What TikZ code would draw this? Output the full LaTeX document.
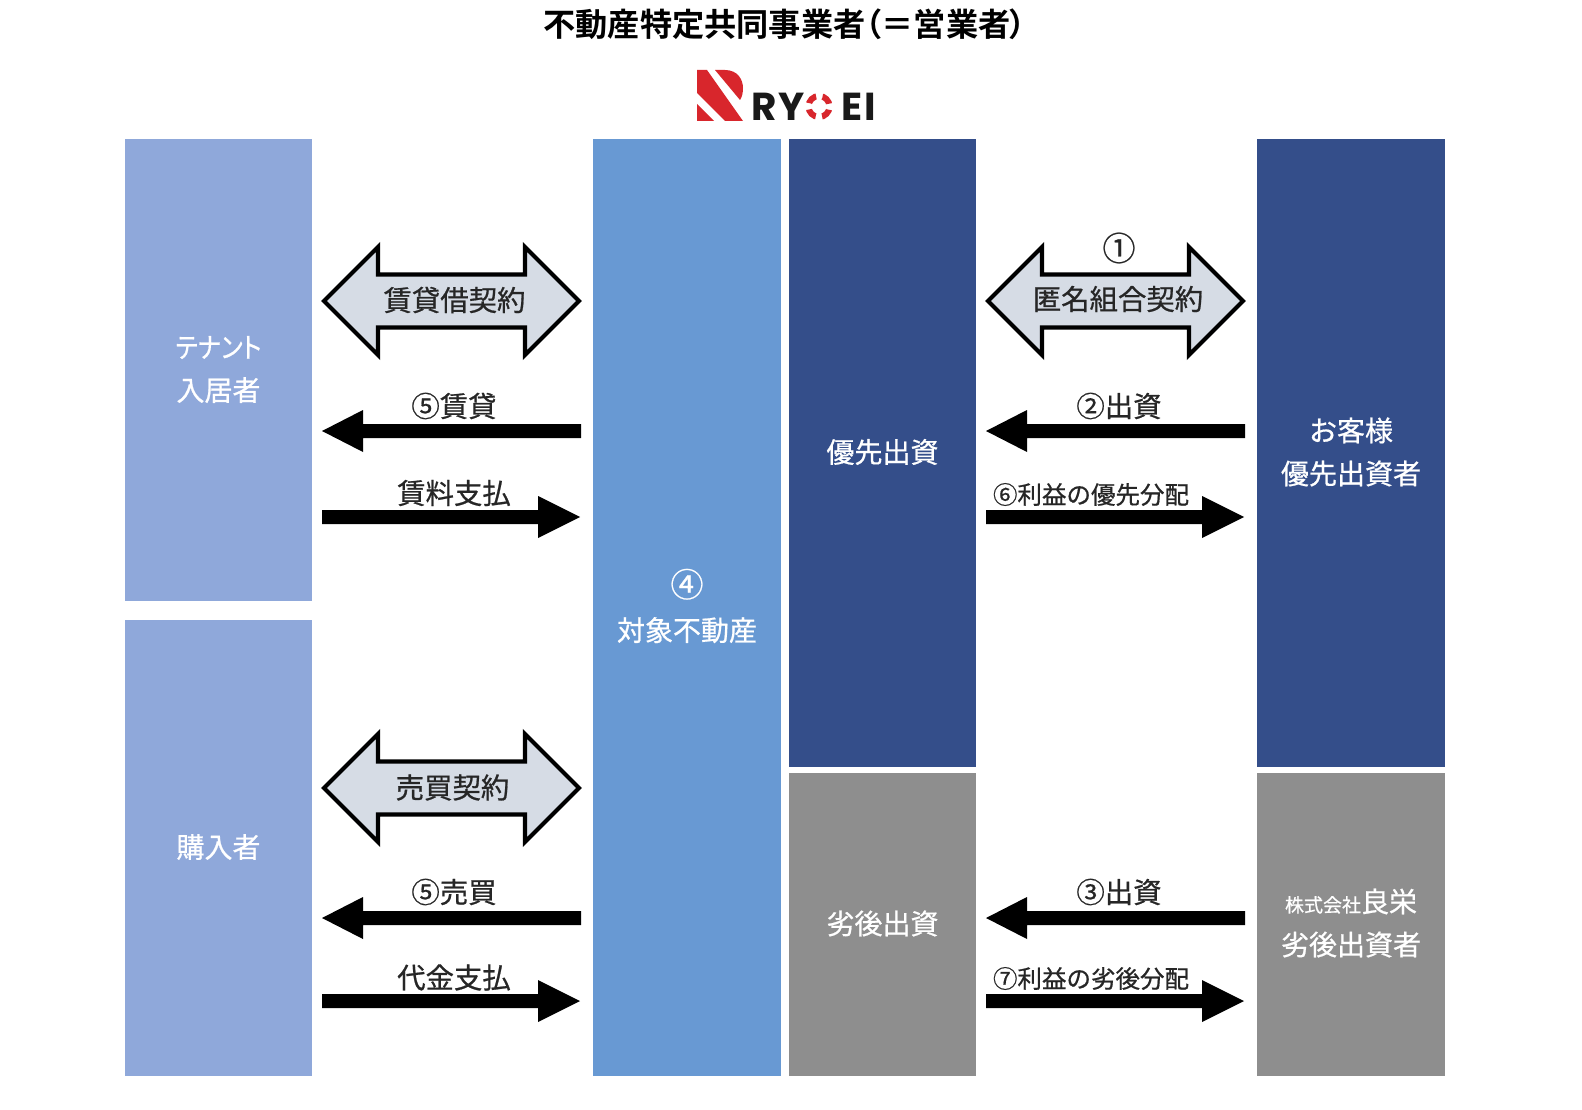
\documentclass[tikz,border=0pt]{standalone}
\usepackage{fontspec}
\usetikzlibrary{arrows.meta,calc}
\setmainfont[FakeBold=0.7]{Noto Sans CJK JP}
\newfontfamily\paltfont[FakeBold=0.7,RawFeature={+palt}]{Noto Sans CJK JP}
\newfontfamily\titlefont[RawFeature={+palt}]{Noto Sans CJK JP Bold}
\newfontfamily\logofont[LetterSpace=5]{Poppins Bold}
\definecolor{tenantblue}{HTML}{8FA8DA}
\definecolor{midblue}{HTML}{6899D3}
\definecolor{navy}{HTML}{344E8A}
\definecolor{midgray}{HTML}{8E8E8E}
\definecolor{palefill}{HTML}{D6DCE5}
\definecolor{logored}{HTML}{D8262C}
\tikzset{
  x=1pt,y=-1pt,
  colbox/.style={inner sep=0pt,outer sep=0pt,anchor=north west},
  boxtext/.style={text=white,font=\fontsize{28}{43}\selectfont,align=center},
  arrowtext/.style={text=black!85,font=\fontsize{28.4}{30}\selectfont,inner sep=0pt},
  smalltext/.style={text=black!85,font=\fontsize{24.5}{30}\selectfont,inner sep=0pt},
  bigarrow/.style={draw=black,line width=4.2pt,fill=palefill,line join=miter},
  solidarrow/.style={fill=black,draw=none},
  logotext/.style={font=\logofont\fontsize{39}{39}\selectfont,text=black!90,inner sep=0pt,anchor=base west},
}
\newcommand{\colrect}[6]{\node[colbox,fill=#6,minimum width=#4 pt,minimum height=#5 pt] (#1) at (#2,#3) {};}
\begin{document}
\begin{tikzpicture}
\useasboundingbox (0,0) rectangle (1582,1110);
\fill[white] (0,0) rectangle (1582,1110);
% columns
\colrect{tenant}{125}{139}{187}{462}{tenantblue}
\colrect{buyer}{125}{620}{187}{456}{tenantblue}
\colrect{property}{593}{139}{188}{937}{midblue}
\colrect{senior}{789}{139}{187}{628}{navy}
\colrect{junior}{789}{773}{187}{303}{midgray}
\colrect{client}{1257}{139}{188}{628}{navy}
\colrect{ryoei}{1257}{773}{188}{303}{midgray}
% column texts
\node[boxtext] (tenantlabel) at (218.5,369.5) {\scalebox{.87}[1]{\paltfont テナント}\\入居者};
\node[boxtext] (buyerlabel) at (218.5,847) {購入者};
\node[boxtext,font=\fontsize{28}{44}\selectfont] (propertylabel) at (687,606) {{\fontsize{33}{44}\selectfont ④}\\対象不動産};
\node[boxtext] (seniorlabel) at (882.5,452) {優先出資};
\node[boxtext] (juniorlabel) at (882.5,923.5) {劣後出資};
\node[boxtext] (clientlabel) at (1351,452) {お客様\\優先出資者};
\node[boxtext] (ryoeilabel) at (1351,923) {{\fontsize{19}{43}\selectfont 株式会社}良栄\\劣後出資者};
% title
\node[font=\titlefont\fontsize{32.2}{36}\selectfont,inner sep=0pt] (title) at (785,24) {不動産特定共同事業者（＝営業者）};
% double arrows
\foreach \dx/\cy in {0/301,664/301,0/788}{
  \draw[bigarrow] (324+\dx,\cy) -- (378+\dx,\cy-54) -- (378+\dx,\cy-26.5) -- (525+\dx,\cy-26.5) -- (525+\dx,\cy-54) -- (579+\dx,\cy)
   -- (525+\dx,\cy+54) -- (525+\dx,\cy+26.5) -- (378+\dx,\cy+26.5) -- (378+\dx,\cy+54) -- cycle;
}
% solid left arrows
\foreach \dx/\cy in {0/431,664/431,0/918,664/918}{
  \fill[solidarrow] (322+\dx,\cy) -- (363+\dx,\cy-21) -- (363+\dx,\cy-7) -- (581+\dx,\cy-7) -- (581+\dx,\cy+7) -- (363+\dx,\cy+7) -- (363+\dx,\cy+21) -- cycle;
}
% solid right arrows
\foreach \dx/\cy in {0/517,664/517,0/1001,664/1001}{
  \fill[solidarrow] (322+\dx,\cy-7) -- (538+\dx,\cy-7) -- (538+\dx,\cy-21) -- (580+\dx,\cy) -- (538+\dx,\cy+21) -- (538+\dx,\cy+7) -- (322+\dx,\cy+7) -- cycle;
}
% arrow labels
\node[arrowtext] (la) at (454.5,300) {賃貸借契約};
\node[arrowtext] (lb) at (1118,299) {匿名組合契約};
\node[arrowtext,font=\fontsize{33}{36}\selectfont] (lc) at (1119,248) {①};
\node[arrowtext] (ld) at (452.5,787.5) {売買契約};
\node[arrowtext] (le) at (454,406) {⑤賃貸};
\node[arrowtext] (lf) at (1119,406) {②出資};
\node[arrowtext] (lg) at (454,493) {賃料支払};
\node[smalltext] (lh) at (1091,494.5) {⑥利益の優先分配};
\node[arrowtext] (li) at (454,892) {⑤売買};
\node[arrowtext] (lj) at (1119,892) {③出資};
\node[arrowtext] (lk) at (454,977.5) {代金支払};
\node[smalltext] (ll) at (1091,978.5) {⑦利益の劣後分配};
% logo
\fill[logored] (697,104) -- (697,121) -- (714,121) -- cycle;
\fill[logored] (697,70) -- (707,70) -- (743,121) -- (725,121) -- (697,93) -- cycle;
\fill[logored] (715,70) -- (725,70) .. controls (738,70) and (743,80) .. (743,88) .. controls (743,93) and (742,97) .. (740,100) -- cycle;
\node[logotext] (ry) at (751,121) {RY};
\node[logotext] (ei) at (841,121) {EI};
\draw[logored,line width=6pt,dash pattern=on 10pt off 6.5pt,dash phase=13.25pt] (819,106.5) circle (10.5);
\end{tikzpicture}
\end{document}
